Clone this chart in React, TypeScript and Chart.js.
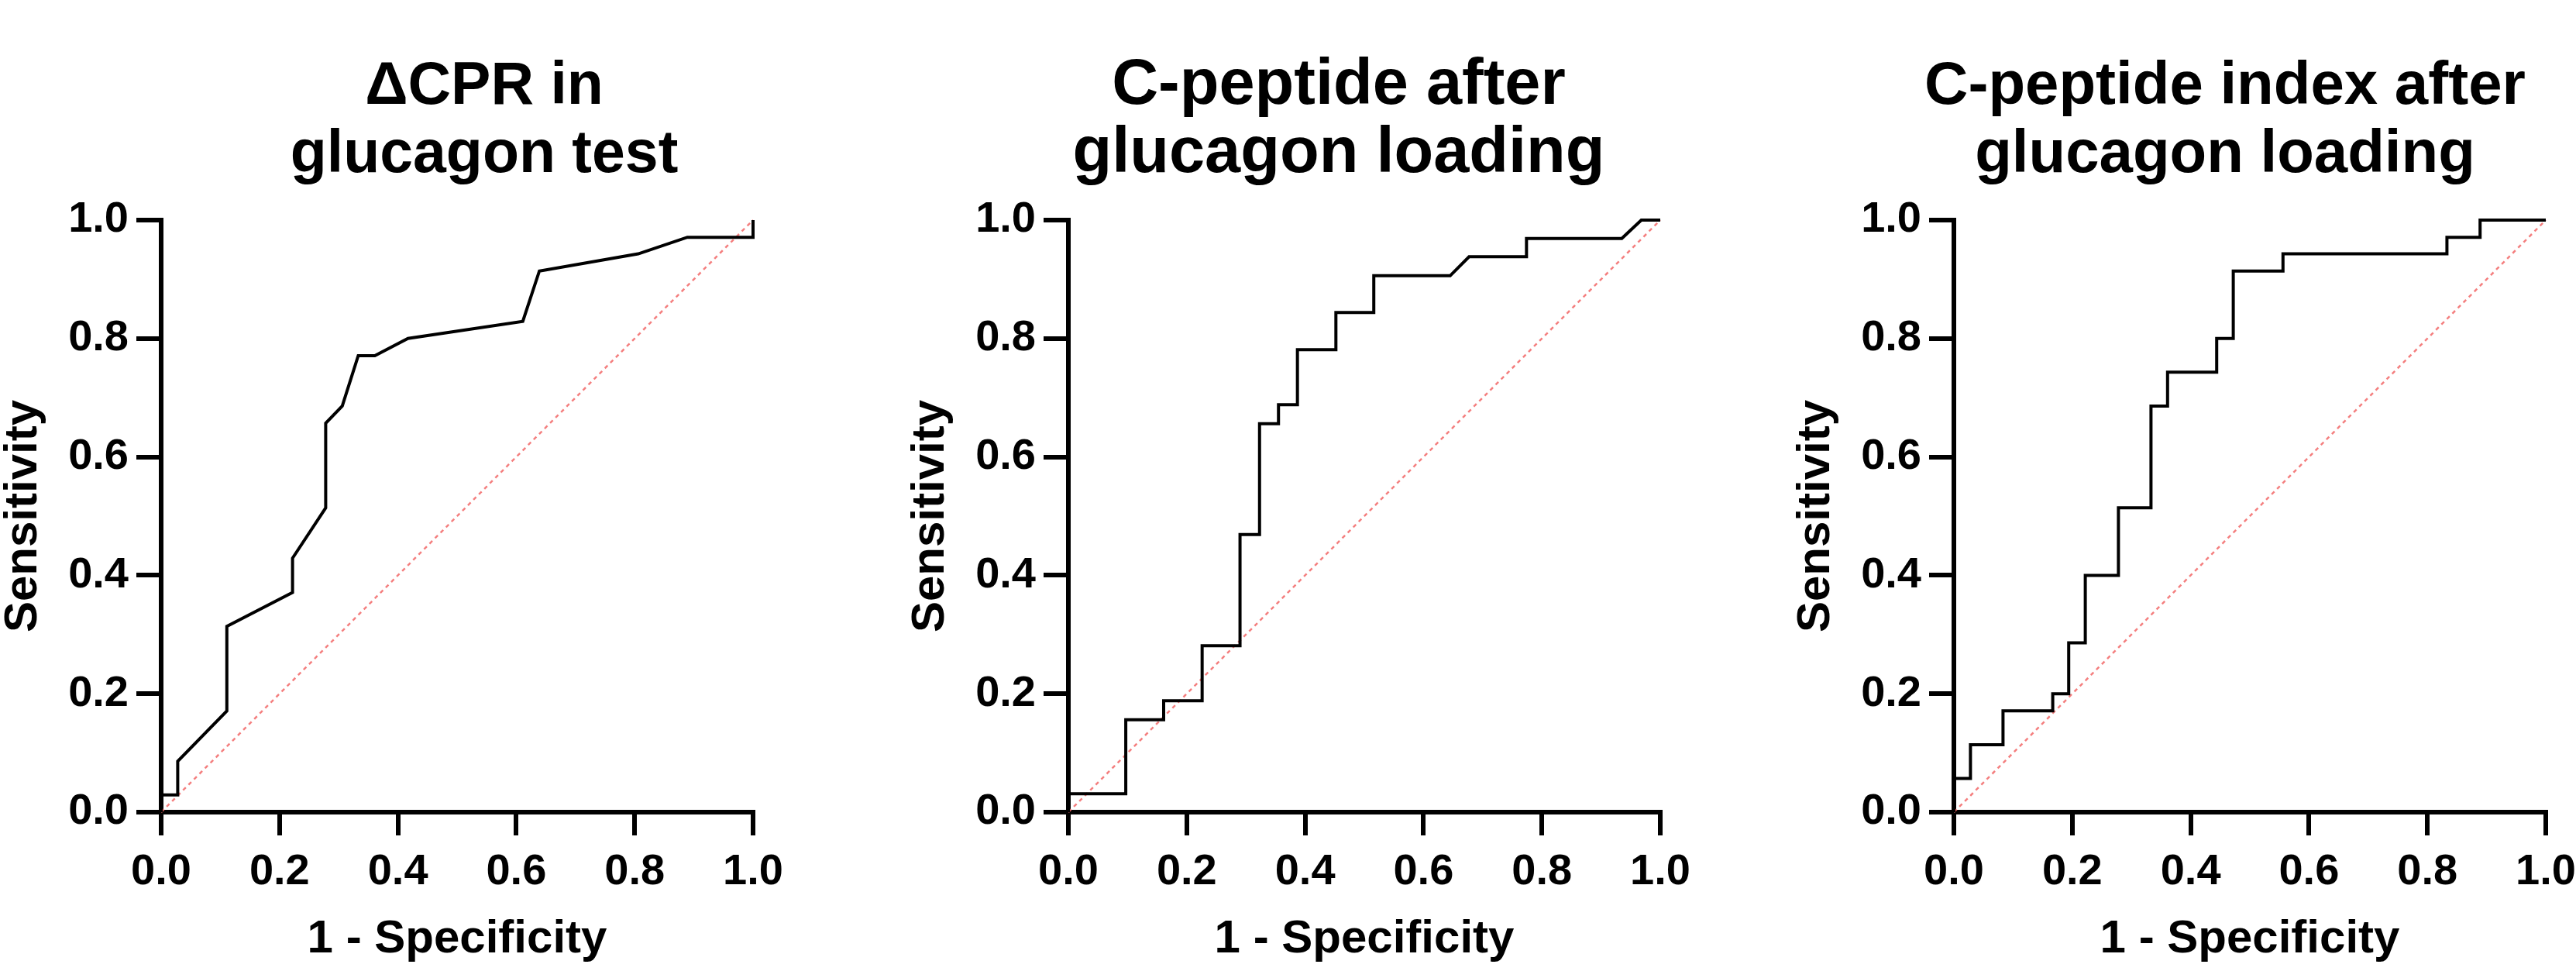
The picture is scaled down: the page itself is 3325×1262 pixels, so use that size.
import React, { useEffect, useRef } from 'react';
import { Chart, registerables } from 'chart.js';

Chart.register(...registerables);

// ---- data (1 - specificity, sensitivity) ----
const cprFpr = [0, 0, 0.028, 0.028, 0.111, 0.111, 0.222, 0.222, 0.278, 0.278, 0.306, 0.333, 0.361, 0.417, 0.611, 0.639, 0.806, 0.889, 1.0, 1.0];
const cprTpr = [0, 0.029, 0.029, 0.086, 0.171, 0.314, 0.371, 0.429, 0.514, 0.657, 0.686, 0.771, 0.771, 0.8, 0.829, 0.914, 0.943, 0.971, 0.971, 1.0];

const cpepFpr = [0, 0, 0.097, 0.097, 0.161, 0.161, 0.226, 0.226, 0.29, 0.29, 0.323, 0.323, 0.355, 0.355, 0.387, 0.387, 0.452, 0.452, 0.516, 0.516, 0.645, 0.677, 0.774, 0.774, 0.935, 0.968, 1.0];
const cpepTpr = [0, 0.031, 0.031, 0.156, 0.156, 0.188, 0.188, 0.281, 0.281, 0.469, 0.469, 0.656, 0.656, 0.688, 0.688, 0.781, 0.781, 0.844, 0.844, 0.906, 0.906, 0.938, 0.938, 0.969, 0.969, 1.0, 1.0];

const cpiFpr = [0, 0, 0.028, 0.028, 0.083, 0.083, 0.167, 0.167, 0.194, 0.194, 0.222, 0.222, 0.278, 0.278, 0.333, 0.333, 0.361, 0.361, 0.444, 0.444, 0.472, 0.472, 0.556, 0.556, 0.833, 0.833, 0.889, 0.889, 1.0];
const cpiTpr = [0, 0.057, 0.057, 0.114, 0.114, 0.171, 0.171, 0.2, 0.2, 0.286, 0.286, 0.4, 0.4, 0.514, 0.514, 0.686, 0.686, 0.743, 0.743, 0.8, 0.8, 0.914, 0.914, 0.943, 0.943, 0.971, 0.971, 1.0, 1.0];

const diagonalX = [0, 1];
const diagonalY = [0, 1];

const tickValues = [0, 0.2, 0.4, 0.6, 0.8, 1.0];
const tickLabels = ['0.0', '0.2', '0.4', '0.6', '0.8', '1.0'];

const titleCpr = ['\u0394CPR in', 'glucagon test'];
const titleCpep = ['C-peptide after', 'glucagon loading'];
const titleCpi = ['C-peptide index after', 'glucagon loading'];

const xAxisTitle = '1 - Specificity';
const yAxisTitle = 'Sensitivity';

const FONT = "'Liberation Sans', Arial, Helvetica, sans-serif";
const CANVAS_W = 1100;
const CANVAS_H = 1248;
const AREA_TOP = 284;
const AREA_RIGHT = 972;

// draws the two-line panel heading as canvas text
const panelTitlePlugin = {
  id: 'panelTitle',
  afterDraw(chart: any, _args: any, opts: any) {
    const ctx = chart.ctx;
    ctx.save();
    ctx.font = `bold ${opts.size}px ${FONT}`;
    ctx.fillStyle = '#000';
    ctx.textAlign = 'center';
    ctx.textBaseline = 'alphabetic';
    (opts.lines as string[]).forEach((line, i) => {
      ctx.fillText(line, opts.centerX, opts.baseline + i * opts.gap);
    });
    ctx.restore();
  },
};

type PanelProps = {
  left: number;
  title: string[];
  titleCenter: number;
  titleSize: number;
  fpr: number[];
  tpr: number[];
};

function RocPanel({ left, title, titleCenter, titleSize, fpr, tpr }: PanelProps) {
  const ref = useRef<HTMLCanvasElement>(null);

  useEffect(() => {
    if (!ref.current) return;
    const axisCommon = {
      type: 'linear' as const,
      min: 0,
      max: 1,
      afterBuildTicks: (s: any) => {
        s.ticks = tickValues.map((v) => ({ value: v }));
      },
      border: { display: true, width: 6, color: '#000' },
    };
    const chart = new Chart(ref.current, {
      type: 'line',
      data: {
        datasets: [
          {
            data: fpr.map((x, i) => ({ x, y: tpr[i] })),
            borderColor: '#000',
            borderWidth: 4,
            pointRadius: 0,
            tension: 0,
            fill: false,
            clip: false as any,
            order: 0,
          },
          {
            data: diagonalX.map((x, i) => ({ x, y: diagonalY[i] })),
            borderColor: 'rgba(242, 105, 105, 0.85)',
            borderWidth: 2.5,
            borderDash: [5, 5],
            pointRadius: 0,
            tension: 0,
            fill: false,
            clip: false as any,
            order: 1,
          },
        ],
      },
      plugins: [panelTitlePlugin],
      options: {
        animation: false,
        responsive: false,
        devicePixelRatio: 1,
        layout: { padding: { left: 0, right: CANVAS_W - AREA_RIGHT, top: AREA_TOP, bottom: 0 } },
        plugins: {
          legend: { display: false },
          tooltip: { enabled: false },
          title: { display: false },
          panelTitle: {
            lines: title,
            centerX: titleCenter - left,
            size: titleSize,
            baseline: 134,
            gap: 88,
          },
        },
        scales: {
          x: {
            ...axisCommon,
            afterFit: (s: any) => {
              s.height = 200;
            },
            grid: { display: true, drawOnChartArea: false, drawTicks: true, tickLength: 30, lineWidth: 6, color: '#000' },
            ticks: {
              color: '#000',
              font: { family: FONT, size: 56, weight: 'bold' },
              padding: 14,
              maxRotation: 0,
              autoSkip: false,
              callback: (_v: any, i: number) => tickLabels[i],
            },
            title: {
              display: true,
              text: xAxisTitle,
              color: '#000',
              font: { family: FONT, size: 60, weight: 'bold', lineHeight: 1.2 },
              padding: 0,
            },
          },
          y: {
            ...axisCommon,
            afterFit: (s: any) => {
              s.width = 208;
            },
            grid: { display: true, drawOnChartArea: false, drawTicks: true, tickLength: 32, lineWidth: 6, color: '#000' },
            ticks: {
              color: '#000',
              font: { family: FONT, size: 56, weight: 'bold' },
              padding: 10,
              autoSkip: false,
              callback: (_v: any, i: number) => tickLabels[i],
            },
            title: {
              display: true,
              text: yAxisTitle,
              color: '#000',
              font: { family: FONT, size: 60, weight: 'bold', lineHeight: 1.0 },
              padding: 0,
            },
          },
        },
      } as any,
    });
    return () => chart.destroy();
  }, [left, title, titleCenter, titleSize, fpr, tpr]);

  return (
    <canvas
      ref={ref}
      width={CANVAS_W}
      height={CANVAS_H}
      style={{ position: 'absolute', left, top: 0, width: CANVAS_W, height: CANVAS_H }}
    />
  );
}

export default function App() {
  return (
    <div
      style={{
        position: 'absolute',
        left: 0,
        top: 0,
        width: 3325,
        height: 1262,
        overflow: 'hidden',
        background: '#fff',
      }}
    >
      <RocPanel left={0} title={titleCpr} titleCenter={625} titleSize={77} fpr={cprFpr} tpr={cprTpr} />
      <RocPanel left={1171} title={titleCpep} titleCenter={1728} titleSize={83} fpr={cpepFpr} tpr={cpepTpr} />
      <RocPanel left={2314} title={titleCpi} titleCenter={2872} titleSize={78} fpr={cpiFpr} tpr={cpiTpr} />
    </div>
  );
}
